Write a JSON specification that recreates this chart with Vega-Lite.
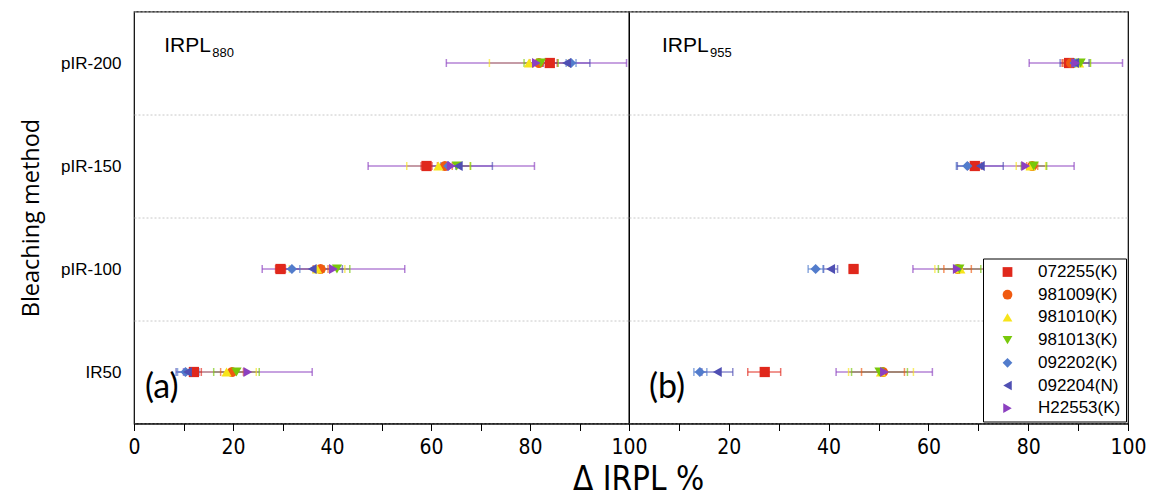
{
  "$schema": "https://vega.github.io/schema/vega-lite/v6.json",
  "padding": {"left": 18, "top": 1.5, "right": 31, "bottom": 0},
  "background": "white",
  "spacing": 0,
  "bounds": "flush",
  "resolve": {"scale": {"color": "independent", "shape": "independent", "fill": "independent", "stroke": "independent"}, "legend": {"color": "independent", "shape": "independent"}},
  "config": {
    "view": {"stroke": "black", "strokeWidth": 1.2},
    "font": "Liberation Sans",
    "axis": {"labelFont": "Liberation Sans", "labelColor": "black", "tickColor": "black", "domainColor": "black", "titleColor": "black"},
    "legend": {
      "orient": "bottom-right", "offset": 2,
      "labelFont": "Liberation Sans", "labelFontSize": 17, "labelColor": "black",
      "symbolSize": 95, "symbolOffset": 11,
      "strokeColor": "black", "fillColor": "white", "padding": 5,
      "rowPadding": 4.7, "labelOffset": 22, "cornerRadius": 0
    }
  },
  "title": {"text": "Δ IRPL %", "orient": "bottom", "anchor": "middle", "frame": "bounds", "dx": 56, "font": "Liberation Sans Narrow, DejaVu Sans Condensed, Liberation Sans", "fontSize": 33, "fontWeight": "normal", "offset": 6, "color": "black"},
  "datasets": {
    "d": [
      {"p": "880", "m": "pIR-200", "s": "072255(K)", "v": 84.0, "lo": 82.5, "hi": 85.5},
      {"p": "880", "m": "pIR-200", "s": "981009(K)", "v": 81.8, "lo": 80.0, "hi": 83.6},
      {"p": "880", "m": "pIR-200", "s": "981010(K)", "v": 79.8, "lo": 71.8, "hi": 87.8},
      {"p": "880", "m": "pIR-200", "s": "981013(K)", "v": 82.2, "lo": 78.8, "hi": 85.7},
      {"p": "880", "m": "pIR-200", "s": "092202(K)", "v": 88.3, "lo": 87.3, "hi": 89.3},
      {"p": "880", "m": "pIR-200", "s": "092204(N)", "v": 87.4, "lo": 82.7, "hi": 92.1},
      {"p": "880", "m": "pIR-200", "s": "H22553(K)", "v": 81.3, "lo": 63.1, "hi": 99.5},
      {"p": "880", "m": "pIR-150", "s": "072255(K)", "v": 59.1, "lo": 58.0, "hi": 60.2},
      {"p": "880", "m": "pIR-150", "s": "981009(K)", "v": 62.8, "lo": 61.3, "hi": 64.3},
      {"p": "880", "m": "pIR-150", "s": "981010(K)", "v": 61.5, "lo": 55.1, "hi": 67.9},
      {"p": "880", "m": "pIR-150", "s": "981013(K)", "v": 65.2, "lo": 62.4, "hi": 68.0},
      {"p": "880", "m": "pIR-150", "s": "092202(K)", "v": 63.5, "lo": 62.0, "hi": 65.0},
      {"p": "880", "m": "pIR-150", "s": "092204(N)", "v": 65.5, "lo": 58.6, "hi": 72.4},
      {"p": "880", "m": "pIR-150", "s": "H22553(K)", "v": 64.1, "lo": 47.3, "hi": 80.9},
      {"p": "880", "m": "pIR-100", "s": "072255(K)", "v": 29.6, "lo": 28.6, "hi": 30.6},
      {"p": "880", "m": "pIR-100", "s": "981009(K)", "v": 37.7, "lo": 36.2, "hi": 39.2},
      {"p": "880", "m": "pIR-100", "s": "981010(K)", "v": 37.0, "lo": 31.4, "hi": 42.6},
      {"p": "880", "m": "pIR-100", "s": "981013(K)", "v": 41.0, "lo": 38.4, "hi": 43.6},
      {"p": "880", "m": "pIR-100", "s": "092202(K)", "v": 31.9, "lo": 30.3, "hi": 33.5},
      {"p": "880", "m": "pIR-100", "s": "092204(N)", "v": 36.0, "lo": 29.9, "hi": 42.1},
      {"p": "880", "m": "pIR-100", "s": "H22553(K)", "v": 40.3, "lo": 25.9, "hi": 54.7},
      {"p": "880", "m": "IR50", "s": "072255(K)", "v": 12.1, "lo": 10.6, "hi": 13.6},
      {"p": "880", "m": "IR50", "s": "981009(K)", "v": 19.8, "lo": 17.5, "hi": 22.1},
      {"p": "880", "m": "IR50", "s": "981010(K)", "v": 18.7, "lo": 12.7, "hi": 24.7},
      {"p": "880", "m": "IR50", "s": "981013(K)", "v": 20.7, "lo": 16.1, "hi": 25.3},
      {"p": "880", "m": "IR50", "s": "092202(K)", "v": 10.4, "lo": 8.8, "hi": 12.0},
      {"p": "880", "m": "IR50", "s": "092204(N)", "v": 10.8, "lo": 8.5, "hi": 13.1},
      {"p": "880", "m": "IR50", "s": "H22553(K)", "v": 23.0, "lo": 10.0, "hi": 36.0},
      {"p": "955", "m": "pIR-200", "s": "072255(K)", "v": 88.2, "lo": 86.8, "hi": 89.6},
      {"p": "955", "m": "pIR-200", "s": "981009(K)", "v": 88.6, "lo": 87.0, "hi": 90.2},
      {"p": "955", "m": "pIR-200", "s": "981010(K)", "v": 90.2, "lo": 88.0, "hi": 92.4},
      {"p": "955", "m": "pIR-200", "s": "981013(K)", "v": 90.5, "lo": 88.5, "hi": 92.5},
      {"p": "955", "m": "pIR-200", "s": "092202(K)", "v": 89.3, "lo": 88.3, "hi": 90.3},
      {"p": "955", "m": "pIR-200", "s": "092204(N)", "v": 89.3, "lo": 86.4, "hi": 92.2},
      {"p": "955", "m": "pIR-200", "s": "H22553(K)", "v": 89.5, "lo": 80.2, "hi": 98.9},
      {"p": "955", "m": "pIR-150", "s": "072255(K)", "v": 69.3, "lo": 68.0, "hi": 70.6},
      {"p": "955", "m": "pIR-150", "s": "981009(K)", "v": 80.8, "lo": 79.7, "hi": 81.9},
      {"p": "955", "m": "pIR-150", "s": "981010(K)", "v": 80.5, "lo": 77.6, "hi": 83.5},
      {"p": "955", "m": "pIR-150", "s": "981013(K)", "v": 81.1, "lo": 78.6, "hi": 83.7},
      {"p": "955", "m": "pIR-150", "s": "092202(K)", "v": 67.8, "lo": 65.6, "hi": 70.0},
      {"p": "955", "m": "pIR-150", "s": "092204(N)", "v": 70.4, "lo": 65.8, "hi": 75.0},
      {"p": "955", "m": "pIR-150", "s": "H22553(K)", "v": 79.5, "lo": 69.8, "hi": 89.2},
      {"p": "955", "m": "pIR-100", "s": "072255(K)", "v": 45.0, "lo": 44.2, "hi": 45.8},
      {"p": "955", "m": "pIR-100", "s": "981009(K)", "v": 65.9, "lo": 63.1, "hi": 68.6},
      {"p": "955", "m": "pIR-100", "s": "981010(K)", "v": 66.4, "lo": 61.3, "hi": 71.5},
      {"p": "955", "m": "pIR-100", "s": "981013(K)", "v": 66.2, "lo": 62.0, "hi": 70.5},
      {"p": "955", "m": "pIR-100", "s": "092202(K)", "v": 37.4, "lo": 35.9, "hi": 38.9},
      {"p": "955", "m": "pIR-100", "s": "092204(N)", "v": 40.4, "lo": 39.0, "hi": 41.8},
      {"p": "955", "m": "pIR-100", "s": "H22553(K)", "v": 65.8, "lo": 56.9, "hi": 74.7},
      {"p": "955", "m": "IR50", "s": "072255(K)", "v": 27.2, "lo": 23.8, "hi": 30.4},
      {"p": "955", "m": "IR50", "s": "981009(K)", "v": 50.9, "lo": 46.6, "hi": 55.2},
      {"p": "955", "m": "IR50", "s": "981010(K)", "v": 50.5, "lo": 44.0, "hi": 57.0},
      {"p": "955", "m": "IR50", "s": "981013(K)", "v": 50.2, "lo": 44.6, "hi": 55.8},
      {"p": "955", "m": "IR50", "s": "092202(K)", "v": 14.2, "lo": 13.0, "hi": 15.6},
      {"p": "955", "m": "IR50", "s": "092204(N)", "v": 17.7, "lo": 14.6, "hi": 20.8},
      {"p": "955", "m": "IR50", "s": "H22553(K)", "v": 51.2, "lo": 41.5, "hi": 60.8}
    ]
  },
  "hconcat": [
    {
      "width": 495, "height": 412,
      "data": {"name": "d"},
      "transform": [{"filter": "datum.p === '880'"}],
      "layer": [
        {
          "mark": {"type": "rule", "strokeWidth": 1.5, "opacity": 0.65},
          "encoding": {
            "y": {"field": "m", "type": "nominal", "scale": {"domain": ["pIR-200", "pIR-150", "pIR-100", "IR50"], "paddingInner": 0, "paddingOuter": 0},
                  "axis": {"title": "Bleaching method", "titleFont": "Open Sans", "titleFontSize": 23.5, "titleFontWeight": "normal", "titlePadding": 17.5, "labelFontSize": 17, "labelPadding": 13, "ticks": false, "domain": false, "grid": true, "tickBand": "extent", "gridColor": "#c8c8c8", "gridDash": [2, 2], "gridWidth": 1}},
            "x": {"field": "lo", "type": "quantitative", "scale": {"domain": [0, 100], "nice": false, "zero": false},
                  "axis": {"title": null, "values": [0, 10, 20, 30, 40, 50, 60, 70, 80, 90, 100], "labelExpr": "datum.value % 20 === 0 ? datum.label : ''", "labelFont": "Liberation Sans Narrow, DejaVu Sans Condensed, Liberation Sans", "labelFontSize": 21, "labelPadding": 6, "tickSize": 7, "grid": false, "labelFlush": false, "labelOverlap": false,
                           "encode": {"ticks": {"update": {"y2": {"signal": "datum.value % 20 === 0 ? 7 : 4"}}}}}},
            "x2": {"field": "hi"},
            "stroke": {"field": "s", "type": "nominal", "scale": {"domain": ["H22553(K)", "092204(N)", "092202(K)", "981013(K)", "981010(K)", "981009(K)", "072255(K)"], "range": ["#8c40c0", "#4f4fb3", "#527ccc", "#78c80a", "#f7e41a", "#f05a10", "#e0281c"]}, "legend": null}
          }
        },
        {
          "mark": {"type": "tick", "orient": "vertical", "size": 8, "thickness": 1.5, "opacity": 0.65},
          "encoding": {"y": {"field": "m", "type": "nominal"}, "x": {"field": "lo", "type": "quantitative"},
                       "fill": {"field": "s", "type": "nominal", "scale": {"domain": ["H22553(K)", "092204(N)", "092202(K)", "981013(K)", "981010(K)", "981009(K)", "072255(K)"], "range": ["#8c40c0", "#4f4fb3", "#527ccc", "#78c80a", "#f7e41a", "#f05a10", "#e0281c"]}, "legend": null}}
        },
        {
          "mark": {"type": "tick", "orient": "vertical", "size": 8, "thickness": 1.5, "opacity": 0.65},
          "encoding": {"y": {"field": "m", "type": "nominal"}, "x": {"field": "hi", "type": "quantitative"},
                       "fill": {"field": "s", "type": "nominal", "legend": null}}
        },
        {
          "mark": {"type": "point", "filled": true, "opacity": 1, "size": 105},
          "encoding": {
            "y": {"field": "m", "type": "nominal"},
            "x": {"field": "v", "type": "quantitative"},
            "color": {"field": "s", "type": "nominal", "scale": {"domain": ["072255(K)", "981009(K)", "981010(K)", "981013(K)", "092202(K)", "092204(N)", "H22553(K)"], "range": ["#e0281c", "#f05a10", "#f7e41a", "#78c80a", "#527ccc", "#4f4fb3", "#8c40c0"]}, "legend": null},
            "shape": {"field": "s", "type": "nominal", "scale": {"domain": ["072255(K)", "981009(K)", "981010(K)", "981013(K)", "092202(K)", "092204(N)", "H22553(K)"], "range": ["square", "circle", "triangle-up", "triangle-down", "diamond", "triangle-left", "triangle-right"]}, "legend": null}
          }
        },
        {
          "data": {"values": [{"t": "IRPL", "sub": "880", "tag": "(a)"}]},
          "layer": [
            {"mark": {"type": "text", "align": "left", "baseline": "alphabetic", "font": "Liberation Sans", "fontSize": 21, "dy": -11.5, "color": "black"},
             "encoding": {"x": {"datum": 6.1, "type": "quantitative"}, "y": {"datum": "pIR-200", "type": "nominal"}, "text": {"field": "t"}}},
            {"mark": {"type": "text", "align": "left", "baseline": "alphabetic", "font": "Liberation Sans", "fontSize": 13, "dy": -6.5, "dx": 48, "color": "black"},
             "encoding": {"x": {"datum": 6.1, "type": "quantitative"}, "y": {"datum": "pIR-200", "type": "nominal"}, "text": {"field": "sub"}}},
            {"mark": {"type": "text", "align": "left", "baseline": "middle", "font": "Lato", "fontSize": 34, "dy": 16, "color": "black"},
             "encoding": {"x": {"datum": 2.2, "type": "quantitative"}, "y": {"datum": "IR50", "type": "nominal"}, "text": {"field": "tag"}}}
          ]
        }
      ]
    },
    {
      "width": 499, "height": 412,
      "data": {"name": "d"},
      "transform": [{"filter": "datum.p === '955'"}],
      "layer": [
        {
          "mark": {"type": "rule", "strokeWidth": 1.5, "opacity": 0.65},
          "encoding": {
            "y": {"field": "m", "type": "nominal", "scale": {"domain": ["pIR-200", "pIR-150", "pIR-100", "IR50"], "paddingInner": 0, "paddingOuter": 0},
                  "axis": {"title": null, "labels": false, "ticks": false, "domain": false, "grid": true, "tickBand": "extent", "gridColor": "#c8c8c8", "gridDash": [2, 2], "gridWidth": 1}},
            "x": {"field": "lo", "type": "quantitative", "scale": {"domain": [0, 100], "nice": false, "zero": false},
                  "axis": {"title": null, "values": [0, 10, 20, 30, 40, 50, 60, 70, 80, 90, 100], "labelExpr": "datum.value % 20 === 0 && datum.value > 0 ? datum.label : ''", "labelFont": "Liberation Sans Narrow, DejaVu Sans Condensed, Liberation Sans", "labelFontSize": 21, "labelPadding": 6, "tickSize": 7, "grid": false, "labelFlush": false, "labelOverlap": false,
                           "encode": {"ticks": {"update": {"y2": {"signal": "datum.value % 20 === 0 ? 7 : 4"}}}}}},
            "x2": {"field": "hi"},
            "stroke": {"field": "s", "type": "nominal", "scale": {"domain": ["H22553(K)", "092204(N)", "092202(K)", "981013(K)", "981010(K)", "981009(K)", "072255(K)"], "range": ["#8c40c0", "#4f4fb3", "#527ccc", "#78c80a", "#f7e41a", "#f05a10", "#e0281c"]}, "legend": null}
          }
        },
        {
          "mark": {"type": "tick", "orient": "vertical", "size": 8, "thickness": 1.5, "opacity": 0.65},
          "encoding": {"y": {"field": "m", "type": "nominal"}, "x": {"field": "lo", "type": "quantitative"},
                       "fill": {"field": "s", "type": "nominal", "scale": {"domain": ["H22553(K)", "092204(N)", "092202(K)", "981013(K)", "981010(K)", "981009(K)", "072255(K)"], "range": ["#8c40c0", "#4f4fb3", "#527ccc", "#78c80a", "#f7e41a", "#f05a10", "#e0281c"]}, "legend": null}}
        },
        {
          "mark": {"type": "tick", "orient": "vertical", "size": 8, "thickness": 1.5, "opacity": 0.65},
          "encoding": {"y": {"field": "m", "type": "nominal"}, "x": {"field": "hi", "type": "quantitative"}, "fill": {"field": "s", "type": "nominal", "legend": null}}
        },
        {
          "mark": {"type": "point", "filled": true, "opacity": 1, "size": 105},
          "encoding": {
            "y": {"field": "m", "type": "nominal"},
            "x": {"field": "v", "type": "quantitative"},
            "color": {"field": "s", "type": "nominal", "scale": {"domain": ["072255(K)", "981009(K)", "981010(K)", "981013(K)", "092202(K)", "092204(N)", "H22553(K)"], "range": ["#e0281c", "#f05a10", "#f7e41a", "#78c80a", "#527ccc", "#4f4fb3", "#8c40c0"]}, "legend": {"title": null, "orient": "bottom-right"}},
            "shape": {"field": "s", "type": "nominal", "scale": {"domain": ["072255(K)", "981009(K)", "981010(K)", "981013(K)", "092202(K)", "092204(N)", "H22553(K)"], "range": ["square", "circle", "triangle-up", "triangle-down", "diamond", "triangle-left", "triangle-right"]}, "legend": {"title": null, "orient": "bottom-right"}}
          }
        },
        {
          "data": {"values": [{"t": "IRPL", "sub": "955", "tag": "(b)"}]},
          "layer": [
            {"mark": {"type": "text", "align": "left", "baseline": "alphabetic", "font": "Liberation Sans", "fontSize": 21, "dy": -11.5, "color": "black"},
             "encoding": {"x": {"datum": 6.6, "type": "quantitative"}, "y": {"datum": "pIR-200", "type": "nominal"}, "text": {"field": "t"}}},
            {"mark": {"type": "text", "align": "left", "baseline": "alphabetic", "font": "Liberation Sans", "fontSize": 13, "dy": -6.5, "dx": 48, "color": "black"},
             "encoding": {"x": {"datum": 6.6, "type": "quantitative"}, "y": {"datum": "pIR-200", "type": "nominal"}, "text": {"field": "sub"}}},
            {"mark": {"type": "text", "align": "left", "baseline": "middle", "font": "Lato", "fontSize": 34, "dy": 16, "color": "black"},
             "encoding": {"x": {"datum": 4.0, "type": "quantitative"}, "y": {"datum": "IR50", "type": "nominal"}, "text": {"field": "tag"}}}
          ]
        }
      ]
    }
  ]
}
